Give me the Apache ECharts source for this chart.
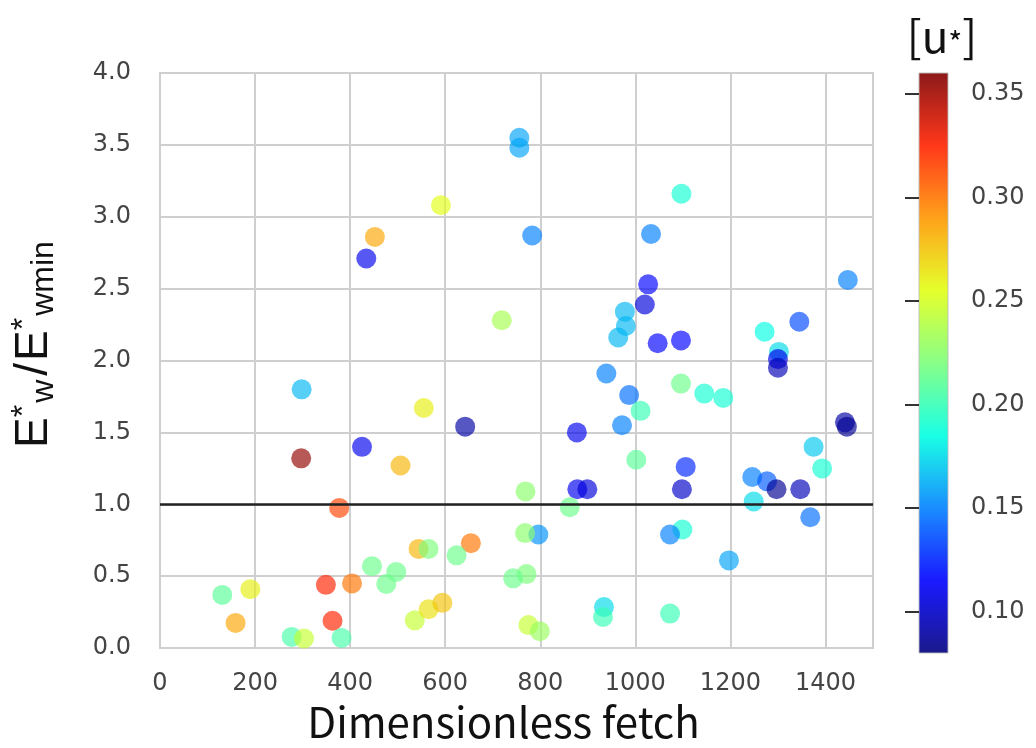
<!DOCTYPE html>
<html><head><meta charset="utf-8">
<script src="https://cdn.jsdelivr.net/npm/echarts@6/dist/echarts.min.js"></script>
<style>html,body{margin:0;padding:0;background:#fff}#c{width:1036px;height:748px}</style>
</head><body><div id="c"></div>
<script>
// Dimensionless fetch (x)
const fetchX = [756, 756, 591, 452, 434, 719, 1097, 783, 1033, 1447,
  1027, 1020, 978, 980, 964, 1047, 1096, 1272, 1345, 1302,
  1300, 1300, 939, 1096, 1145, 1185, 987, 1011, 972, 877,
  1441, 1445, 1375, 1393, 1002, 1106, 1098, 878, 899, 769,
  862, 1246, 1277, 1297, 1347, 1249, 1368, 796, 768, 1099,
  1073, 1197, 771, 743, 934, 932, 1073, 775, 799, 298,
  555, 642, 297, 425, 506, 377, 544, 565, 654, 624,
  446, 497, 476, 349, 404, 131, 190, 159, 363, 277,
  303, 382, 536, 565, 594];
// E*w / E*wmin (y)
const ratioY = [3.55, 3.48, 3.08, 2.86, 2.71, 2.28, 3.16, 2.87, 2.88, 2.56,
  2.53, 2.39, 2.34, 2.24, 2.16, 2.12, 2.14, 2.20, 2.27, 2.06,
  2.01, 1.95, 1.91, 1.84, 1.77, 1.74, 1.76, 1.65, 1.55, 1.50,
  1.57, 1.54, 1.40, 1.25, 1.31, 1.26, 1.105, 1.105, 1.105, 1.09,
  0.98, 1.19, 1.16, 1.105, 1.105, 1.02, 0.91, 0.79, 0.80, 0.825,
  0.79, 0.61, 0.515, 0.485, 0.285, 0.216, 0.24, 0.16, 0.117, 1.80,
  1.67, 1.54, 1.32, 1.40, 1.27, 0.975, 0.69, 0.69, 0.73, 0.645,
  0.57, 0.53, 0.446, 0.44, 0.45, 0.37, 0.41, 0.175, 0.19, 0.078,
  0.067, 0.071, 0.193, 0.27, 0.315];
// u* (colour)
const uStar = [0.16, 0.16, 0.255, 0.285, 0.11, 0.235, 0.19, 0.15, 0.15, 0.15,
  0.115, 0.105, 0.165, 0.165, 0.165, 0.115, 0.115, 0.185, 0.135, 0.175,
  0.11, 0.095, 0.15, 0.215, 0.19, 0.19, 0.145, 0.2, 0.15, 0.11,
  0.09, 0.085, 0.17, 0.19, 0.21, 0.125, 0.10, 0.11, 0.105, 0.225,
  0.215, 0.15, 0.14, 0.085, 0.095, 0.175, 0.145, 0.155, 0.225, 0.19,
  0.15, 0.16, 0.22, 0.215, 0.175, 0.2, 0.2, 0.245, 0.23, 0.165,
  0.26, 0.09, 0.355, 0.11, 0.28, 0.315, 0.28, 0.22, 0.30, 0.215,
  0.215, 0.215, 0.215, 0.325, 0.30, 0.21, 0.26, 0.285, 0.325, 0.205,
  0.245, 0.205, 0.245, 0.265, 0.275];
const colorbarTicks = [0.10, 0.15, 0.20, 0.25, 0.30, 0.35];
const uMin = 0.08, uMax = 0.36;
const jet = ['#00007f', '#0000ff', '#0080ff', '#00ffe2', '#7bff7b', '#e2ff14', '#ff9700', '#ff2100', '#7f0000'];

const data = fetchX.map((x, i) => [x, ratioY[i], uStar[i]]);
const chart = echarts.init(document.getElementById('c'));

const PL = 157, PT = 73, PW = 716, PH = 580;
const CL = 919, CW = 29;

chart.setOption({
  animation: false,
  backgroundColor: '#fff',
  grid: [
    { left: PL, top: PT, width: PW, height: PH, show: true, borderColor: '#cfcfcf', borderWidth: 2 },
    { left: CL, top: PT, width: CW, height: PH, show: false }
  ],
  xAxis: [
    {
      type: 'value', gridIndex: 0, min: 0, max: 1500, interval: 200,
      axisLine: { show: false }, axisTick: { show: false },
      splitLine: { lineStyle: { color: '#cfcfcf', width: 2 } },
      axisLabel: { fontFamily: 'DejaVu Sans', fontSize: 24, color: '#444', margin: 24,
        formatter: v => (v > 1450 ? '' : String(v)) },
      name: 'Dimensionless fetch', nameLocation: 'middle', nameGap: 47,
      nameTextStyle: { fontFamily: 'Noto Sans CJK JP', fontSize: 42, lineHeight: 42, color: '#111', padding: [0, 26, 0, 0] }
    },
    { type: 'value', gridIndex: 1, show: false, min: 0, max: 1 }
  ],
  yAxis: [
    {
      type: 'value', gridIndex: 0, min: 0, max: 4, interval: 0.5,
      axisLine: { show: false }, axisTick: { show: false },
      splitLine: { lineStyle: { color: '#cfcfcf', width: 2 } },
      axisLabel: { fontFamily: 'DejaVu Sans', fontSize: 24, color: '#444', margin: 29,
        formatter: v => v.toFixed(1) },
      name: '{a|E}{s|*}{b|w}{c|/}{a|E}{s|*}{b|wmin}',
      nameLocation: 'middle', nameGap: 100, nameRotate: 90,
      nameTextStyle: {
        color: '#111', padding: [0, 0, 0, 32],
        rich: {
          a: { fontFamily: 'Liberation Sans', fontSize: 46, lineHeight: 52, color: '#111' },
          c: { fontFamily: 'Liberation Sans', fontSize: 46, lineHeight: 52, color: '#111', padding: [0, 2, 0, 4] },
          s: { fontFamily: 'Liberation Sans', fontSize: 32, lineHeight: 52, verticalAlign: 'top', color: '#111' },
          b: { fontFamily: 'Liberation Sans', fontSize: 32, lineHeight: 52, verticalAlign: 'bottom', color: '#111', padding: [0, 0, 0, 2] }
        }
      }
    },
    {
      type: 'value', gridIndex: 1, min: uMin, max: uMax, position: 'right',
      axisLine: { show: false }, splitLine: { show: false },
      axisTick: { show: true, inside: true, length: 14, lineStyle: { color: '#333', width: 2 }, customValues: colorbarTicks },
      axisLabel: { fontFamily: 'DejaVu Sans', fontSize: 24, color: '#444', margin: 23,
        customValues: colorbarTicks, formatter: v => v.toFixed(2) }
    }
  ],
  visualMap: {
    show: false, type: 'continuous', seriesIndex: 0, dimension: 2,
    min: uMin, max: uMax, inRange: { color: jet }
  },
  graphic: [
    {
      type: 'rect', z: -10, shape: { x: CL, y: PT, width: CW, height: PH },
      style: {
        fill: new echarts.graphic.LinearGradient(0, 1, 0, 0,
          jet.map((c, i) => ({ offset: i / (jet.length - 1), color: c }))),
        stroke: '#bbb', lineWidth: 1, opacity: 0.9
      }
    },
    {
      type: 'text', x: 942, y: 36,
      style: {
        text: '[u{s|*}]', fill: '#111', font: '44px "Noto Sans CJK JP"',
        align: 'center', verticalAlign: 'middle',
        rich: { s: { fontSize: 30, fontFamily: 'Noto Sans CJK JP', fill: '#111', verticalAlign: 'bottom' } }
      }
    }
  ],
  series: [
    {
      type: 'scatter', xAxisIndex: 0, yAxisIndex: 0, data: data,
      symbolSize: 20, itemStyle: { opacity: 0.66 },
      markLine: {
        silent: true, symbol: 'none', label: { show: false },
        lineStyle: { color: '#222', width: 2.5, type: 'solid' },
        data: [{ yAxis: 1 }]
      }
    }
  ]
});
</script>
</body></html>
